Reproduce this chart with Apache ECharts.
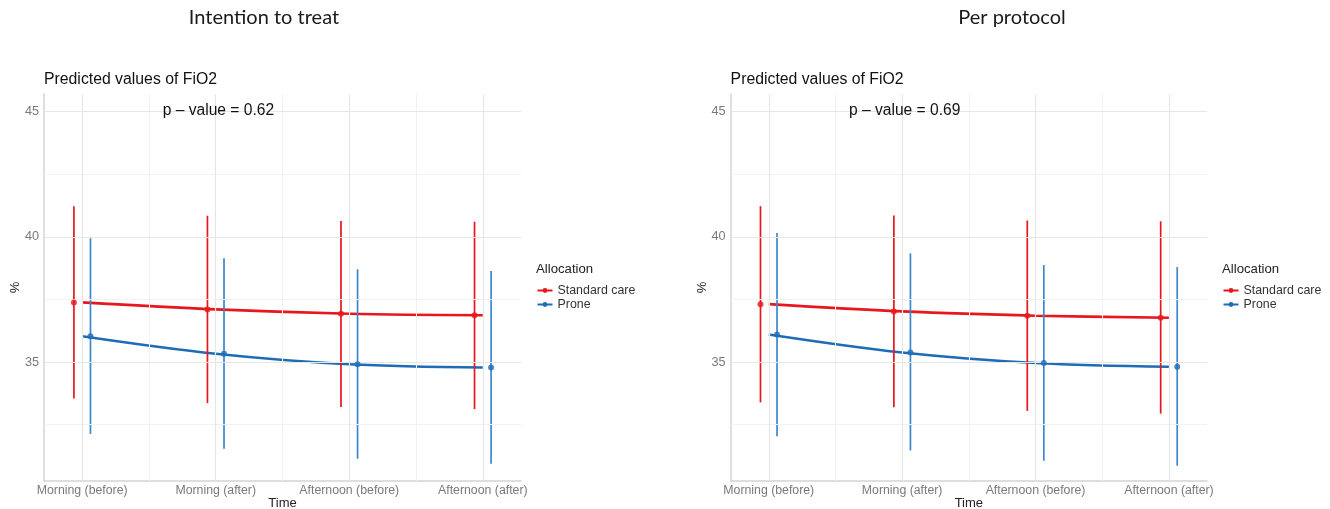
<!DOCTYPE html>
<html>
<head>
<meta charset="utf-8">
<script src="https://cdn.jsdelivr.net/npm/echarts@6/dist/echarts.min.js"></script>
<style>
html,body{margin:0;padding:0;background:#fff;}
#chart{width:1330px;height:509px;}
</style>
</head>
<body>
<div id="chart"></div>
<script>
// ---- data ----
const categories = ['Morning (before)', 'Morning (after)', 'Afternoon (before)', 'Afternoon (after)'];
const panelTitles = ['Intention to treat', 'Per protocol'];
const pValues = ['p \u2013 value = 0.62', 'p \u2013 value = 0.69'];
const yTickValues = [35, 40, 45];

// Intention to treat
const ittStdFit   = [37.38, 37.10, 36.93, 36.87];
const ittStdLow   = [33.54, 33.36, 33.20, 33.12];
const ittStdHigh  = [41.22, 40.84, 40.63, 40.60];
const ittProneFit  = [36.03, 35.33, 34.91, 34.78];
const ittProneLow  = [32.13, 31.54, 31.14, 30.94];
const ittProneHigh = [39.94, 39.14, 38.70, 38.63];

// Per protocol
const ppStdFit   = [37.31, 37.02, 36.85, 36.77];
const ppStdLow   = [33.39, 33.19, 33.05, 32.94];
const ppStdHigh  = [41.22, 40.85, 40.65, 40.62];
const ppProneFit  = [36.10, 35.38, 34.96, 34.81];
const ppProneLow  = [32.04, 31.47, 31.06, 30.86];
const ppProneHigh = [40.15, 39.34, 38.87, 38.79];

// ---- style / layout ----
const RED = '#e8161d';
const BLUE_LINE = '#1f6cb6';
const BLUE_BAR = '#3c87cb';
const DODGE = 0.062;
const grids = [
  { left: 44, top: 94, width: 477, height: 387, containLabel: false, outerBoundsMode: 'none' },
  { left: 730.6, top: 94, width: 476.5, height: 387, containLabel: false, outerBoundsMode: 'none' }
];
const legendLeft = [536.5, 1222.5];
const FONT = '"Liberation Sans", Arial, sans-serif';

const panels = [
  { std: [ittStdFit, ittStdLow, ittStdHigh], prone: [ittProneFit, ittProneLow, ittProneHigh] },
  { std: [ppStdFit, ppStdLow, ppStdHigh], prone: [ppProneFit, ppProneLow, ppProneHigh] }
];

const xAxes = [], yAxes = [], series = [], graphics = [], legends = [];

function gridMarkLines() {
  const d = [];
  [1.5, 2.5, 3.5].forEach(v => d.push({ xAxis: v, lineStyle: { color: '#f2f2f2', width: 1 } }));
  [32.5, 37.5, 42.5].forEach(v => d.push({ yAxis: v, lineStyle: { color: '#f2f2f2', width: 1 } }));
  [1, 2, 3, 4].forEach(v => d.push({ xAxis: v, lineStyle: { color: '#e6e6e6', width: 1.2 } }));
  yTickValues.forEach(v => d.push({ yAxis: v, lineStyle: { color: '#e6e6e6', width: 1.2 } }));
  return d;
}

panels.forEach((p, i) => {
  xAxes.push({
    type: 'value', gridIndex: i, min: 0.714, max: 4.286,
    name: 'Time', nameLocation: 'middle', nameGap: 16, nameMoveOverlap: false,
    nameTextStyle: { fontFamily: FONT, fontSize: 13, color: '#222' },
    axisLine: { show: true, lineStyle: { color: '#d4d4d4', width: 1.5 } },
    axisTick: { show: false, customValues: [1, 2, 3, 4] },
    splitLine: { show: false },
    axisLabel: {
      customValues: [1, 2, 3, 4], margin: 4,
      fontFamily: FONT, fontSize: 12.3, color: '#7a7a7a',
      formatter: v => categories[Math.round(v) - 1] || ''
    }
  });
  yAxes.push({
    type: 'value', gridIndex: i, min: 30.25, max: 45.7,
    name: '%', nameLocation: 'middle', nameGap: 22, nameRotate: 90, nameMoveOverlap: false,
    nameTextStyle: { fontFamily: FONT, fontSize: 13, color: '#222' },
    axisLine: { show: true, lineStyle: { color: '#d4d4d4', width: 1.5 } },
    axisTick: { show: false, customValues: yTickValues },
    splitLine: { show: false },
    axisLabel: {
      customValues: yTickValues, margin: 5,
      fontFamily: FONT, fontSize: 12.7, color: '#7a7a7a'
    }
  });

  // gridlines
  series.push({
    type: 'line', xAxisIndex: i, yAxisIndex: i, data: [], z: 0, silent: true,
    markLine: {
      silent: true, symbol: ['none', 'none'], label: { show: false },
      animation: false, emphasis: { disabled: true },
      lineStyle: { type: 'solid' },
      data: gridMarkLines()
    }
  });

  const groups = [
    { name: 'Standard care', vals: p.std, line: RED, bar: RED, off: -DODGE },
    { name: 'Prone', vals: p.prone, line: BLUE_LINE, bar: BLUE_BAR, off: DODGE }
  ];

  groups.forEach(g => {
    const [fit] = g.vals;
    // fitted line at category positions
    series.push({
      type: 'line', name: g.name, xAxisIndex: i, yAxisIndex: i, z: 3,
      data: fit.map((v, k) => [k + 1, v]),
      smooth: 0.35, symbol: 'circle', symbolSize: 6, showSymbol: false,
      lineStyle: { color: g.line, width: 2.6 }, itemStyle: { color: g.line },
      animation: false, emphasis: { disabled: true }
    });
  });
  groups.forEach(g => {
    const [fit, low, high] = g.vals;
    // confidence interval bars (dodged)
    series.push({
      type: 'custom', name: g.name, xAxisIndex: i, yAxisIndex: i, z: 4,
      data: fit.map((v, k) => [k + 1 + g.off, low[k], high[k]]),
      encode: { x: 0, y: [1, 2] },
      renderItem: (params, api) => {
        const a = api.coord([api.value(0), api.value(1)]);
        const b = api.coord([api.value(0), api.value(2)]);
        return {
          type: 'line',
          shape: { x1: a[0], y1: a[1], x2: b[0], y2: b[1] },
          style: { stroke: g.bar, lineWidth: 1.7 }
        };
      },
      itemStyle: { color: g.line },
      animation: false, silent: true
    });
    // points
    series.push({
      type: 'scatter', name: g.name, xAxisIndex: i, yAxisIndex: i, z: 5,
      data: fit.map((v, k) => [k + 1 + g.off, v]),
      symbolSize: 6, itemStyle: { color: g.line },
      animation: false, emphasis: { disabled: true }
    });
  });

  const gd = grids[i];
  // panel title
  graphics.push({
    type: 'text', x: i === 0 ? 264 : 1012, y: 18, z: 100,
    style: { text: panelTitles[i], font: '20px Lato, "Open Sans", sans-serif', fill: '#1a1a1a', textAlign: 'center', textVerticalAlign: 'middle' }
  });
  // subtitle
  graphics.push({
    type: 'text', x: gd.left, y: 80, z: 100,
    style: { text: 'Predicted values of FiO2', font: '15.8px ' + FONT, fill: '#111', textAlign: 'left', textVerticalAlign: 'middle' }
  });
  // p-value
  graphics.push({
    type: 'text', x: i === 0 ? 162.7 : 849, y: 111, z: 100,
    style: { text: pValues[i], font: '15.6px ' + FONT, fill: '#111', textAlign: 'left', textVerticalAlign: 'middle' }
  });
  // legend title
  graphics.push({
    type: 'text', x: legendLeft[i] - 0.5, y: 269, z: 100,
    style: { text: 'Allocation', font: '13.2px ' + FONT, fill: '#222', textAlign: 'left', textVerticalAlign: 'middle' }
  });
  legends.push({
    left: legendLeft[i], top: 284.5, orient: 'vertical', padding: 0,
    itemWidth: 15, itemHeight: 6, itemGap: 2,
    data: ['Standard care', 'Prone'],
    selectedMode: false,
    textStyle: { fontFamily: FONT, fontSize: 12.4, color: '#333', lineHeight: 12 }
  });
});

const chart = echarts.init(document.getElementById('chart'), null, { renderer: 'canvas' });
chart.setOption({
  animation: false,
  backgroundColor: '#ffffff',
  grid: grids,
  xAxis: xAxes,
  yAxis: yAxes,
  legend: legends,
  graphic: graphics,
  series: series
});
</script>
</body>
</html>
